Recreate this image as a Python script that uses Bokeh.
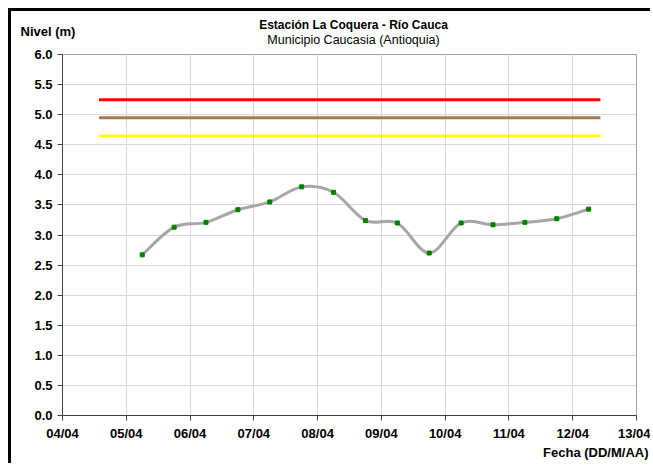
import numpy as np
import pandas as pd
from bokeh.plotting import figure
from bokeh.models import Label, DatetimeTickFormatter, FixedTicker, Range1d, NumeralTickFormatter
from bokeh.embed import file_html
from bokeh.resources import INLINE

# ---- data ----
times = ["2011-04-05 06:00", "2011-04-05 18:00", "2011-04-06 06:00", "2011-04-06 18:00",
         "2011-04-07 06:00", "2011-04-07 18:00", "2011-04-08 06:00", "2011-04-08 18:00",
         "2011-04-09 06:00", "2011-04-09 18:00", "2011-04-10 06:00", "2011-04-10 18:00",
         "2011-04-11 06:00", "2011-04-11 18:00", "2011-04-12 06:00"]
nivel = [2.67, 3.13, 3.21, 3.42, 3.55, 3.80, 3.71, 3.24, 3.20, 2.70, 3.20, 3.17, 3.21, 3.27, 3.43]

umbral_tiempo = ["2011-04-04 13:45", "2011-04-12 10:25"]
umbral_rojo = 5.25
umbral_naranja = 4.95
umbral_amarillo = 4.65

x_ticks = ["2011-04-04", "2011-04-05", "2011-04-06", "2011-04-07", "2011-04-08",
           "2011-04-09", "2011-04-10", "2011-04-11", "2011-04-12", "2011-04-13"]
y_ticks = [0.0, 0.5, 1.0, 1.5, 2.0, 2.5, 3.0, 3.5, 4.0, 4.5, 5.0, 5.5, 6.0]

FONT = "Liberation Sans"

def to_ms(s):
    return np.array([pd.Timestamp(t).value / 1e6 for t in s])

xt = to_ms(times)
yv = np.array(nivel, dtype=float)
xtk = to_ms(x_ticks)
ut = to_ms(umbral_tiempo)

p = figure(width=642, height=455, output_backend="svg", toolbar_location=None,
           x_axis_type="datetime",
           x_range=Range1d(xtk[0], xtk[-1]), y_range=Range1d(0, 6),
           min_border_left=51, min_border_right=17, min_border_top=42, min_border_bottom=51,
           background_fill_color="white", border_fill_color="white",
           styles={"margin-top": "8px", "margin-left": "8px",
                   "border-top": "3px solid #000", "border-left": "3px solid #000"})

p.outline_line_color = "#a0a0a0"
p.outline_line_width = 1

for ax in (p.xaxis[0], p.yaxis[0]):
    ax.axis_line_color = "#404040"
    ax.major_tick_line_color = "#404040"
    ax.major_tick_out = 5
    ax.major_tick_in = 0
    ax.minor_tick_line_color = None
    ax.major_label_text_font = FONT
    ax.major_label_text_font_size = "13px"
    ax.major_label_text_font_style = "bold"
    ax.major_label_text_color = "#000000"

p.xaxis[0].ticker = FixedTicker(ticks=list(xtk))
p.xaxis[0].formatter = DatetimeTickFormatter(days="%d/%m", months="%d/%m", hours="%d/%m")
p.xaxis[0].major_label_standoff = 5
p.yaxis[0].ticker = FixedTicker(ticks=y_ticks)
p.yaxis[0].formatter = NumeralTickFormatter(format="0.0")
p.yaxis[0].major_label_standoff = 5

p.xgrid.ticker = FixedTicker(ticks=list(xtk))
p.ygrid.ticker = FixedTicker(ticks=y_ticks)
p.xgrid.grid_line_color = "#d9d9d9"
p.ygrid.grid_line_color = "#d9d9d9"

# thresholds
p.line(ut, [umbral_rojo] * 2, line_color="#ff0000", line_width=3)
p.line(ut, [umbral_naranja] * 2, line_color="#a57a4c", line_width=3)
p.line(ut, [umbral_amarillo] * 2, line_color="#ffff00", line_width=2.5)

# smoothed series line (spreadsheet-style "smoothed line")
n = len(xt)
x0, y0, x1, y1, cx0, cy0, cx1, cy1 = ([] for _ in range(8))
for i in range(n - 1):
    ip = max(i - 1, 0)
    inx = min(i + 2, n - 1)
    x0.append(xt[i]); y0.append(yv[i]); x1.append(xt[i + 1]); y1.append(yv[i + 1])
    cx0.append(xt[i] + (xt[i + 1] - xt[ip]) / 6); cy0.append(yv[i] + (yv[i + 1] - yv[ip]) / 6)
    cx1.append(xt[i + 1] - (xt[inx] - xt[i]) / 6); cy1.append(yv[i + 1] - (yv[inx] - yv[i]) / 6)
p.bezier(x0=x0, y0=y0, x1=x1, y1=y1, cx0=cx0, cy0=cy0, cx1=cx1, cy1=cy1,
         line_color="#a6a6a6", line_width=3)
p.scatter(xt, yv, marker="square", size=4, fill_color="#008000", line_color="#008000")

# texts (canvas units: origin at the canvas top-left); placed in side panels so they are not clipped
p.add_layout(Label(x=339, y=10.5, x_units="canvas", y_units="canvas",
                   text="Estación La Coquera - Río Cauca", text_font=FONT, text_font_size="12px",
                   text_font_style="bold", text_color="#000000",
                   text_align="center", text_baseline="middle"), "above")
p.add_layout(Label(x=339, y=25.5, x_units="canvas", y_units="canvas",
                   text="Municipio Caucasia (Antioquia)", text_font=FONT, text_font_size="12.5px",
                   text_color="#000000", text_align="center", text_baseline="middle"), "above")
p.add_layout(Label(x=6, y=16.5, x_units="canvas", y_units="canvas",
                   text="Nivel (m)", text_font=FONT, text_font_size="13px",
                   text_font_style="bold", text_color="#000000",
                   text_align="left", text_baseline="middle"), "above")
p.add_layout(Label(x=634, y=438, x_units="canvas", y_units="canvas",
                   text="Fecha (DD/M/AA)", text_font=FONT, text_font_size="13px",
                   text_font_style="bold", text_color="#000000",
                   text_align="right", text_baseline="middle"), "below")

open("out.html", "w").write(file_html(p, INLINE))
